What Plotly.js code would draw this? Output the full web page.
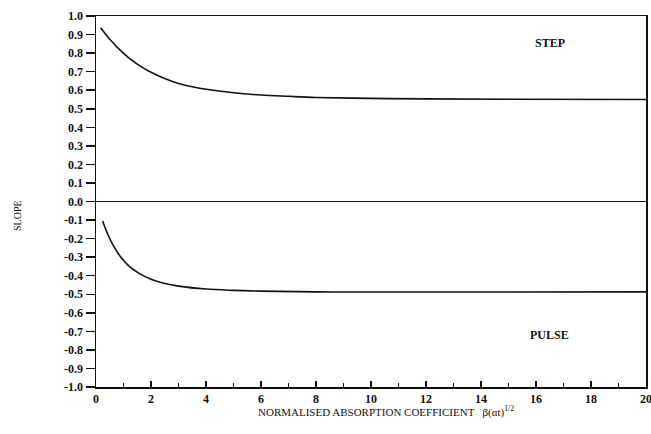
<!DOCTYPE html>
<html><head><meta charset="utf-8">
<script src="https://cdn.plot.ly/plotly-3.0.1.min.js"></script>
<style>html,body{margin:0;padding:0;background:#fff;}</style>
</head><body>
<div id="chart" style="width:651px;height:434px;"></div>
<script>
const stepX = [0.17, 0.5, 1.0, 1.5, 2.0, 2.5, 3.0, 3.5, 4, 5, 6, 7, 8, 10, 12, 15, 20];
const stepY = [0.937, 0.875, 0.799, 0.741, 0.697, 0.663, 0.636, 0.619, 0.605, 0.586, 0.574, 0.567, 0.561, 0.556, 0.553, 0.551, 0.550];
const pulseX = [0.24, 0.4, 0.6, 0.87, 1.2, 1.6, 2.0, 2.5, 3.0, 4, 5, 6, 8, 10, 14, 20];
const pulseY = [-0.105, -0.167, -0.230, -0.294, -0.348, -0.390, -0.419, -0.442, -0.456, -0.472, -0.479, -0.483, -0.487, -0.488, -0.488, -0.487];
const yTicks = [1.0, 0.9, 0.8, 0.7, 0.6, 0.5, 0.4, 0.3, 0.2, 0.1, 0.0, -0.1, -0.2, -0.3, -0.4, -0.5, -0.6, -0.7, -0.8, -0.9, -1.0];
const yTickLabels = yTicks.map(v => v.toFixed(1));
const xTicks = [0, 2, 4, 6, 8, 10, 12, 14, 16, 18, 20];
const labels = ["STEP", "PULSE"];
const xTitle = "NORMALISED ABSORPTION COEFFICIENT &nbsp;&nbsp;β(αt)<sup>1/2</sup>";
const yTitle = "SLOPE";

const font = "Liberation Serif, Times New Roman, serif";
const traces = [
  {x: stepX, y: stepY, mode: "lines", line: {color: "#111", width: 1.6, shape: "spline", smoothing: 1}, name: labels[0]},
  {x: pulseX, y: pulseY, mode: "lines", line: {color: "#111", width: 1.6, shape: "spline", smoothing: 1}, name: labels[1]}
];
const layout = {
  width: 651, height: 434,
  margin: {l: 96, r: 5, t: 16, b: 47},
  paper_bgcolor: "#fff", plot_bgcolor: "#fff",
  showlegend: false,
  font: {family: font, color: "#111"},
  xaxis: {
    range: [0, 20], tickvals: xTicks, ticktext: xTicks.map(String),
    ticks: "inside", ticklen: 6, tickwidth: 1.5, tickcolor: "#111",
    minor: {dtick: 1, ticks: "inside", ticklen: 4, tickwidth: 1, tickcolor: "#111"},
    showgrid: false, zeroline: false, showline: true, linecolor: "#111", linewidth: 1.5, mirror: true,
    tickfont: {family: font, size: 12, weight: "bold"},
    ticklabeloverflow: "allow",
    automargin: false
  },
  yaxis: {
    range: [-1, 1], tickvals: yTicks, ticktext: yTickLabels,
    ticks: "outside", ticklen: 9, tickwidth: 1.5, tickcolor: "#111",
    showgrid: false, zeroline: true, zerolinecolor: "#111", zerolinewidth: 1.6,
    showline: true, linecolor: "#111", linewidth: 1.5, mirror: true,
    tickfont: {family: font, size: 12, weight: "bold"},
    automargin: false
  },
  annotations: [
    {x: 16.5, y: 0.855, xref: "x", yref: "y", text: labels[0], showarrow: false, font: {family: font, size: 12, weight: "bold"}},
    {x: 16.5, y: -0.72, xref: "x", yref: "y", text: labels[1], showarrow: false, font: {family: font, size: 12, weight: "bold"}},
    {xref: "paper", yref: "paper", text: xTitle, showarrow: false, xanchor: "center", yanchor: "middle", font: {family: font, size: 11}},
    {xref: "paper", yref: "paper", text: yTitle, textangle: -90, showarrow: false, xanchor: "center", yanchor: "middle", font: {family: font, size: 10}}
  ]
};
// pixel placements of the title annotations, converted to paper fractions
const pw = 651 - 96 - 5, ph = 434 - 16 - 47;
layout.annotations[2].x = (386 - 96) / pw; layout.annotations[2].y = (434 - 47 - 411) / ph;
layout.annotations[3].x = (17 - 96) / pw; layout.annotations[3].y = (434 - 47 - 216) / ph;
Plotly.newPlot("chart", traces, layout, {displayModeBar: false, staticPlot: true});
</script>
</body></html>
